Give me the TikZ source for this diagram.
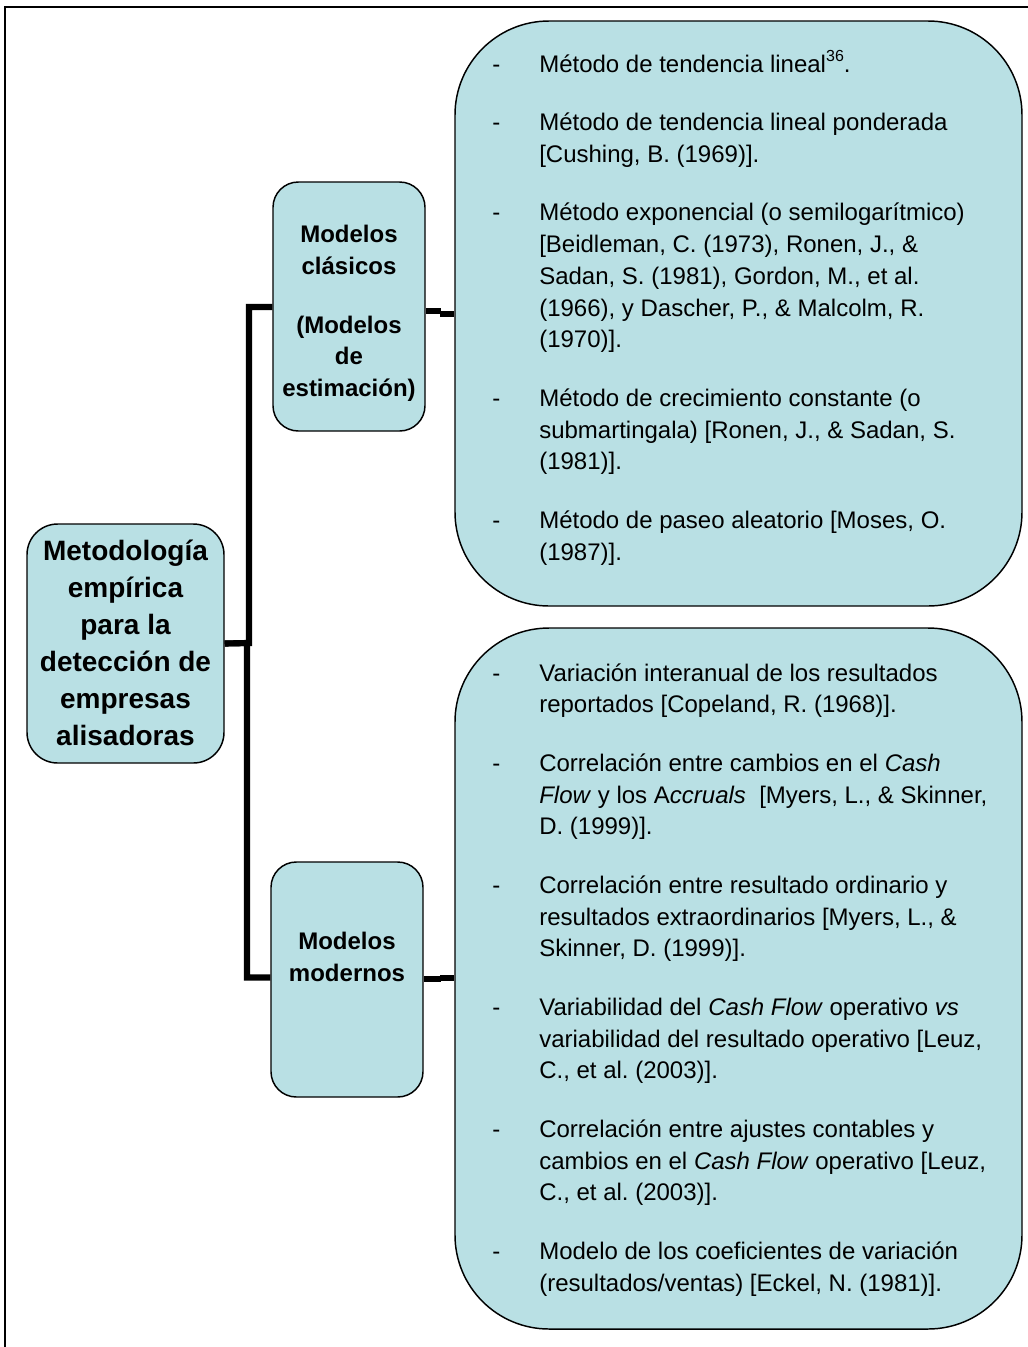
\documentclass[tikz,border=0pt]{standalone}
\usepackage{fontspec}
\setmainfont{Liberation Sans}
\frenchspacing
\definecolor{boxfill}{RGB}{185,224,228}
\tikzset{
  box/.style={draw=black, line width=1.1pt, fill=boxfill, rectangle, inner sep=0pt},
  conn/.style={draw=black, line width=4.6pt, line join=miter, line cap=butt},
  frameline/.style={draw=black, line width=1.5pt},
  listtext/.style={inner sep=0pt, anchor=base west},
  headtext/.style={inner sep=0pt, anchor=base, align=center}
}
\newcommand{\gapitem}{\\[20.175pt]}
\newcommand{\dsh}{\makebox[35.25pt][l]{-}}
\begin{document}
\begin{tikzpicture}[x=0.75pt,y=-0.75pt]
\useasboundingbox (0,0) rectangle (1028,1347);

% page frame (only top and left edges fall inside the picture)
\draw[frameline] (5,1347) -- (5,7) -- (1028,7);

% boxes
\node[box, rounded corners=23pt, minimum width=147.75pt, minimum height=179.25pt] (main) at (125.5,643.5) {};
\node[box, rounded corners=19pt, minimum width=114pt, minimum height=186.75pt] (clas) at (349,306.5) {};
\node[box, rounded corners=19pt, minimum width=114pt, minimum height=176.25pt] (mod) at (347,979.5) {};
\node[box, rounded corners=70.5pt, minimum width=425.25pt, minimum height=438.75pt] (upl) at (738.5,313.5) {};
\node[box, rounded corners=70.5pt, minimum width=425.25pt, minimum height=525.75pt] (lowl) at (738.5,978.5) {};

% connectors from the root to the two groups
\coordinate (busA) at (249,643);
\coordinate (busB) at (247,643);
\draw[conn] (main.east) -- (busA) |- ([yshift=-0.4pt]clas.west);
\draw[conn] (main.east) -- (busB) |- ([yshift=1.5pt]mod.west);

% connectors from the groups to their lists
\coordinate (kA1) at (440,311.3);
\coordinate (kA2) at (440,313.8);
\draw[conn] (clas.east |- kA1) -- ([xshift=1pt]kA1);
\draw[conn] (kA2) -- (upl.west |- kA2);
\coordinate (kB1) at (440,979);
\coordinate (kB2) at (440,977.8);
\draw[conn] (mod.east |- kB1) -- ([xshift=1pt]kB1);
\draw[conn] (kB2) -- (lowl.west |- kB2);

% texts of the root and the groups (base anchor = baseline of the last line)
\node[headtext, font=\fontsize{21}{27.75}\selectfont\bfseries] (tmain) at (125.5,745)
  {Metodología\\empírica\\para la\\detección de\\empresas\\alisadoras};
\node[headtext, font=\fontsize{18}{23.775}\selectfont\bfseries] (tclas) at (349,396.5)
  {Modelos\\clásicos\\[20.175pt](Modelos\\de\\estimación)};
\node[headtext, font=\fontsize{18}{23.775}\selectfont\bfseries] (tmod) at (347,981.5)
  {Modelos\\modernos};

% classical models
\node[listtext] (tupl) at (492,72) {\fontsize{18}{23.775}\selectfont
\begin{tabular}[t]{@{}l@{}l@{}}
\dsh & Método de tendencia lineal\raisebox{0.42em}{\fontsize{12}{12}\selectfont 36}. \gapitem
\dsh & Método de tendencia lineal ponderada \\
 & [Cushing, B. (1969)]. \gapitem
\dsh & Método exponencial (o semilogarítmico) \\
 & [Beidleman, C. (1973), Ronen, J., \& \\
 & Sadan, S. (1981), Gordon, M., et al. \\
 & (1966), y Dascher, P., \& Malcolm, R. \\
 & (1970)]. \gapitem
\dsh & Método de crecimiento constante (o \\
 & submartingala) [Ronen, J., \& Sadan, S. \\
 & (1981)]. \gapitem
\dsh & Método de paseo aleatorio [Moses, O. \\
 & (1987)].
\end{tabular}};

% modern models
\node[listtext] (tlowl) at (492,681) {\fontsize{18}{23.775}\selectfont
\begin{tabular}[t]{@{}l@{}l@{}}
\dsh & Variación interanual de los resultados \\
 & reportados [Copeland, R. (1968)]. \gapitem
\dsh & Correlación entre cambios en el \textit{Cash} \\
 & \textit{Flow} y los A\textit{ccruals}\ \ [Myers, L., \& Skinner, \\
 & D. (1999)]. \gapitem
\dsh & Correlación entre resultado ordinario y \\
 & resultados extraordinarios [Myers, L., \& \\
 & Skinner, D. (1999)]. \gapitem
\dsh & Variabilidad del \textit{Cash Flow} operativo \textit{vs} \\
 & variabilidad del resultado operativo [Leuz, \\
 & C., et al. (2003)]. \gapitem
\dsh & Correlación entre ajustes contables y \\
 & cambios en el \textit{Cash Flow} operativo [Leuz, \\
 & C., et al. (2003)]. \gapitem
\dsh & Modelo de los coeficientes de variación \\
 & (resultados/ventas) [Eckel, N. (1981)].
\end{tabular}};
\end{tikzpicture}
\end{document}
